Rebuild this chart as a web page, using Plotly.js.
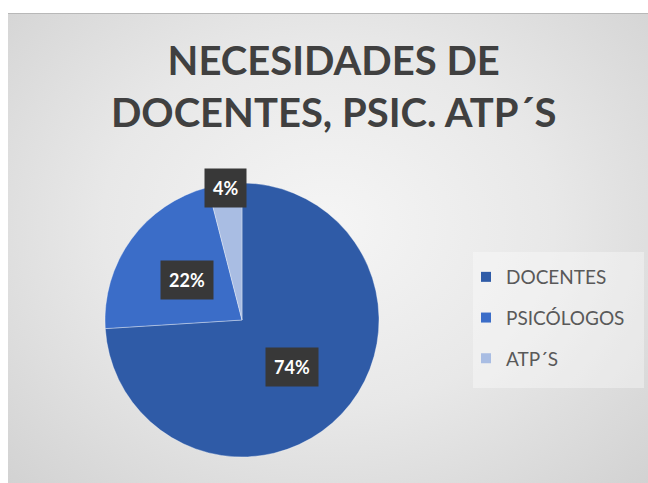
<!DOCTYPE html>
<html><head><meta charset="utf-8">
<script src="https://cdn.plot.ly/plotly-3.0.1.min.js"></script>
<style>
html,body{margin:0;padding:0;background:#fff;}
#wrap{position:relative;width:648px;height:483px;overflow:hidden;}
#bg{position:absolute;left:8px;top:13px;width:640px;height:470px;background:radial-gradient(ellipse at 50% 45%, #f5f5f5 0%, #e8e8e8 50%, #d2d2d2 100%);border-top:1px solid #b8b8b8;}
#chart{position:absolute;left:0;top:0;width:648px;height:483px;}
</style></head><body>
<div id="wrap"><div id="bg"></div><div id="chart"></div></div>
<script>
const categories = ['DOCENTES', 'PSICÓLOGOS', 'ATP´S'];
const values = [74, 22, 4];
const colors = ['#2F5BA7', '#3B6DC8', '#A9BDE3'];
const titleText = 'NECESIDADES DE<br>DOCENTES, PSIC. ATP´S';

const W = 648, H = 483;
const cx = 242, cy = 320, R = 137;

const total = values.reduce((a, b) => a + b, 0);
let cum = 0;
const annotations = values.map((v, i) => {
  const frac = v / total;
  const theta = 2 * Math.PI * (cum + frac / 2);
  cum += frac;
  const rf = frac < 0.1 ? 0.97 : 0.5;
  const px = cx + Math.sin(theta) * rf * R;
  const py = cy - Math.cos(theta) * rf * R;
  return {
    xref: 'paper', yref: 'paper', x: px / W, y: 1 - py / H,
    xanchor: 'center', yanchor: 'middle', showarrow: false,
    text: Math.round(frac * 100) + '%',
    bgcolor: '#383838', borderpad: 8,
    font: {family: 'Lato', size: 18, color: '#ffffff', weight: 700}
  };
});

const pie = {
  type: 'pie', labels: categories, values: values, sort: false,
  direction: 'clockwise', rotation: 0, textinfo: 'none', hoverinfo: 'label+percent',
  marker: {colors: colors, line: {color: 'rgba(255,255,255,0.35)', width: 1}},
  domain: {x: [(cx - R) / W, (cx + R) / W], y: [1 - (cy + R) / H, 1 - (cy - R) / H]},
  showlegend: false
};

const legendTraces = categories.map((c, i) => ({
  type: 'scatter', x: [null], y: [null], mode: 'markers', name: c,
  legendgroup: 'g' + i, hoverinfo: 'skip',
  marker: {symbol: 'square', size: 10, color: colors[i]}
}));

const layout = {
  width: W, height: H,
  margin: {l: 0, r: 0, t: 0, b: 0},
  paper_bgcolor: 'rgba(0,0,0,0)', plot_bgcolor: 'rgba(0,0,0,0)',
  title: {
    text: titleText, x: 0.515, xanchor: 'center', y: 1 - 75 / H, yanchor: 'top',
    font: {family: 'Lato', size: 40, color: '#404040', weight: 700}
  },
  xaxis: {visible: false}, yaxis: {visible: false},
  legend: {
    x: 466 / W, xanchor: 'left', y: 1 - 258 / H, yanchor: 'top',
    bgcolor: 'rgba(0,0,0,0)', tracegroupgap: 13, traceorder: 'grouped',
    font: {family: 'Lato', size: 19, color: '#595959'}
  },
  shapes: [{
    type: 'rect', xref: 'paper', yref: 'paper', layer: 'below',
    x0: 473 / W, x1: 644 / W, y0: 1 - 388 / H, y1: 1 - 252 / H,
    fillcolor: 'rgba(255,255,255,0.35)', line: {width: 0}
  }],
  annotations: annotations
};

Plotly.newPlot('chart', [pie].concat(legendTraces), layout, {displayModeBar: false, staticPlot: true});
</script>
</body></html>
